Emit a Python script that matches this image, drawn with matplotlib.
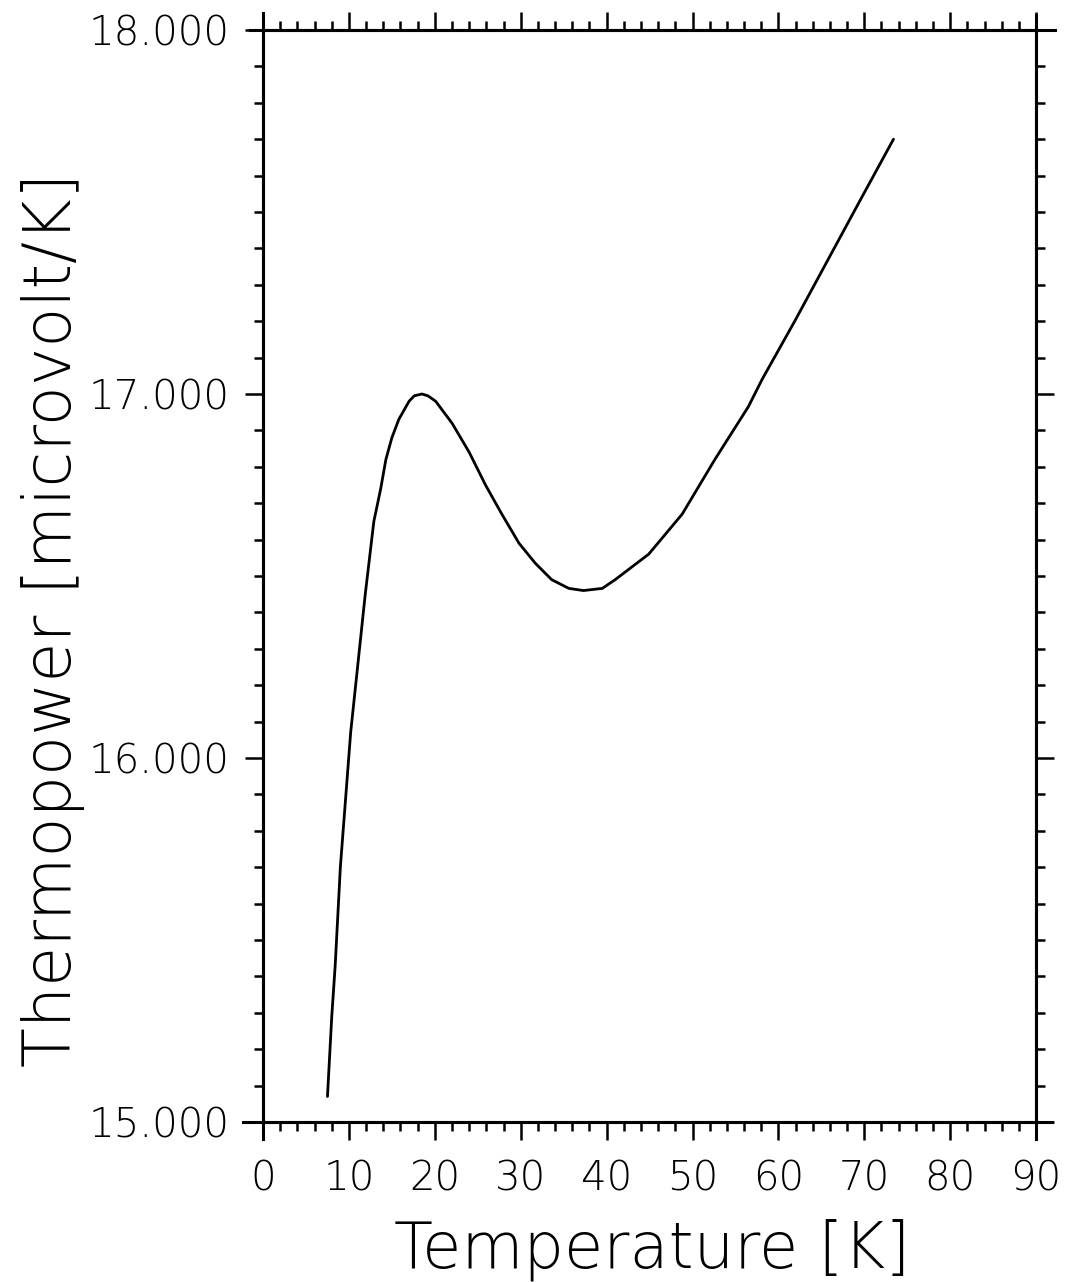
import matplotlib
matplotlib.use("Agg")
import matplotlib.pyplot as plt
from matplotlib.ticker import MultipleLocator, FormatStrFormatter
from matplotlib.lines import Line2D

# Thermopower vs temperature
temperature = [7.5, 8.0, 8.4, 9.0, 10.2, 11.9, 12.9, 13.7, 14.3, 15.0, 15.8,
               17.0, 17.6, 18.5, 19.2, 20.1, 22.0, 24.0, 25.9, 27.8, 29.8,
               31.7, 33.6, 35.6, 37.3, 39.5, 41.0, 44.9, 48.8, 52.6, 56.5,
               58.1, 61.9, 65.8, 69.7, 73.4]
thermopower = [15.07, 15.29, 15.43, 15.70, 16.07, 16.45, 16.65, 16.74, 16.82,
               16.88, 16.93, 16.98, 16.995, 17.00, 16.995, 16.98, 16.92,
               16.84, 16.75, 16.67, 16.59, 16.535, 16.49, 16.466, 16.46,
               16.466, 16.49, 16.56, 16.67, 16.82, 16.965, 17.04, 17.20,
               17.37, 17.54, 17.70]

x_ticks = [0, 10, 20, 30, 40, 50, 60, 70, 80, 90]
y_ticks = [15.0, 16.0, 17.0, 18.0]

plt.rcParams['font.family'] = ['DejaVu Sans']
plt.rcParams['font.weight'] = 'light'
plt.rcParams['axes.labelweight'] = 'light'

fig = plt.figure(figsize=(10.68, 12.82), dpi=100)
ax = fig.add_axes([0.2463, 0.1248, 0.7238, 0.8518])

ax.plot(temperature, thermopower, color='black', lw=2.0,
        solid_joinstyle='round', solid_capstyle='round')

ax.set_xlim(0, 90)
ax.set_ylim(15.0, 18.0)
ax.set_xticks(x_ticks)
ax.set_yticks(y_ticks)
ax.xaxis.set_minor_locator(MultipleLocator(2))
ax.yaxis.set_minor_locator(MultipleLocator(0.1))
ax.yaxis.set_major_formatter(FormatStrFormatter('%.3f'))

ax.tick_params(which='both', direction='out', width=1.8, color='black',
               labelcolor='black', top=True, right=True,
               labeltop=False, labelright=False)
ax.tick_params(which='major', length=13)
ax.tick_params(which='minor', length=6.5)
ax.tick_params(axis='y', which='major', labelsize=29, pad=11)
ax.tick_params(axis='x', which='major', labelsize=29, pad=14)

for s in ax.spines.values():
    s.set_linewidth(2.2)

# short extensions of the frame lines beyond the corners
ext = dict(color='black', lw=2.2, transform=ax.transAxes, clip_on=False)
ax.add_line(Line2D([-0.026, 1.02], [0, 0], **ext))
ax.add_line(Line2D([-0.017, 1.025], [1, 1], **ext))
ax.add_line(Line2D([0, 0], [-0.016, 1.016], **ext))
ax.add_line(Line2D([1, 1], [-0.016, 1.014], **ext))

ax.set_xlabel('Temperature [K]', fontsize=46, fontweight='light', va='center')
ax.set_ylabel('Thermopower [microvolt/K]', fontsize=47, fontweight='light',
              va='center')
ax.xaxis.set_label_coords(0.503, -0.117)
ax.yaxis.set_label_coords(-0.272, 0.46)

fig.savefig('out.png', dpi=100, facecolor='white')
